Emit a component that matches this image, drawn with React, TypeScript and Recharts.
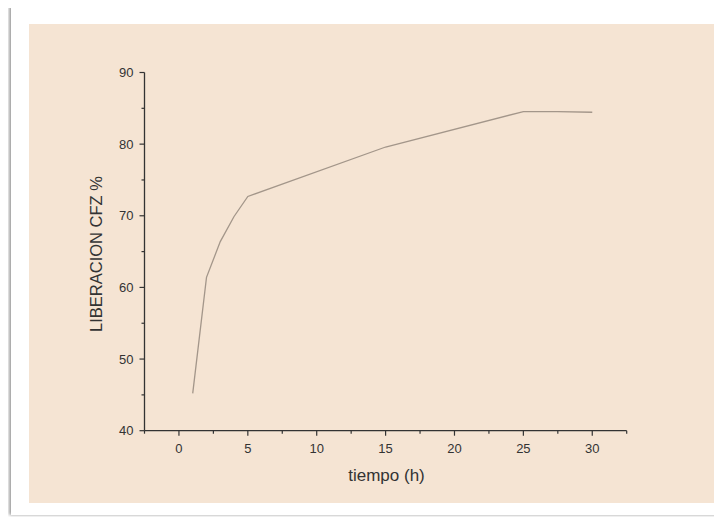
import { Label, Line, LineChart, XAxis, YAxis } from "recharts";

const tiempo = [1, 2, 3, 4, 5, 15, 25, 27.5, 30];
const liberacion = [45.2, 61.4, 66.4, 69.9, 72.7, 79.6, 84.55, 84.55, 84.45];

const xTicks = [-2.5, 0, 2.5, 5, 7.5, 10, 12.5, 15, 17.5, 20, 22.5, 25, 27.5, 30, 32.5];
const xLabels = [0, 5, 10, 15, 20, 25, 30];
const yTicks = [40, 45, 50, 55, 60, 65, 70, 75, 80, 85, 90];
const yLabels = [40, 50, 60, 70, 80, 90];

const data = tiempo.map((t, i) => ({ t, v: liberacion[i] }));

const ink = "#333";
const font = "'Liberation Sans', Arial, sans-serif";

const XTick = ({ x, y, payload }: any) => {
  const major = xLabels.includes(payload.value);
  return (
    <g>
      <line x1={x} x2={x} y1={y} y2={y + (major ? 5 : 3)} stroke={ink} strokeWidth={1.2} />
      {major && (
        <text x={x} y={y + 22} textAnchor="middle" fontSize={13} fill={ink} fontFamily={font}>
          {payload.value}
        </text>
      )}
    </g>
  );
};

const YTick = ({ x, y, payload }: any) => {
  const major = yLabels.includes(payload.value);
  return (
    <g>
      <line x1={x} x2={x - (major ? 5 : 3)} y1={y} y2={y} stroke={ink} strokeWidth={1.2} />
      {major && (
        <text x={x - 11} y={y + 4.5} textAnchor="end" fontSize={13} fill={ink} fontFamily={font}>
          {payload.value}
        </text>
      )}
    </g>
  );
};

export default function App() {
  return (
    <div style={{ position: "relative", width: 714, height: 509 }}>
      <div
        style={{
          position: "absolute",
          left: 3,
          top: -2,
          width: 711,
          height: 509,
          background: "#fff",
          boxShadow: "-2px 0 3px rgba(0,0,0,0.35), 0 -1px 3px rgba(0,0,0,0.12)"
        }}
      />
      <div
        style={{
          position: "absolute",
          left: 21,
          top: 16,
          width: 685,
          height: 479,
          background: "#f5e4d3"
        }}
      >
        <LineChart width={685} height={479} data={data} margin={{ top: 48.5, right: 87.3, bottom: 42.3, left: 55.5 }}>
          <XAxis
            dataKey="t"
            type="number"
            domain={[-2.5, 32.5]}
            ticks={xTicks}
            interval={0}
            tickSize={0}
            tickMargin={0}
            tickLine={false}
            tick={<XTick />}
            height={30}
            axisLine={{ stroke: ink, strokeWidth: 1.3 }}
          >
            <Label
              content={() => (
                <text x={357.5} y={457} textAnchor="middle" fontSize={17} fill={ink} fontFamily={font}>
                  tiempo (h)
                </text>
              )}
            />
          </XAxis>
          <YAxis
            type="number"
            domain={[40, 90]}
            ticks={yTicks}
            interval={0}
            tickSize={0}
            tickMargin={0}
            tickLine={false}
            tick={<YTick />}
            width={60}
            axisLine={{ stroke: ink, strokeWidth: 1.3 }}
          >
            <Label
              content={() => (
                <text
                  x={67}
                  y={230}
                  transform="rotate(-90 67 230)"
                  textAnchor="middle"
                  dominantBaseline="central"
                  fontSize={16.5}
                  fill={ink}
                  fontFamily={font}
                >
                  LIBERACION CFZ %
                </text>
              )}
            />
          </YAxis>
          <Line
            dataKey="v"
            type="linear"
            stroke="#a3968a"
            strokeWidth={1.3}
            dot={false}
            activeDot={false}
            isAnimationActive={false}
          />
        </LineChart>
      </div>
    </div>
  );
}
